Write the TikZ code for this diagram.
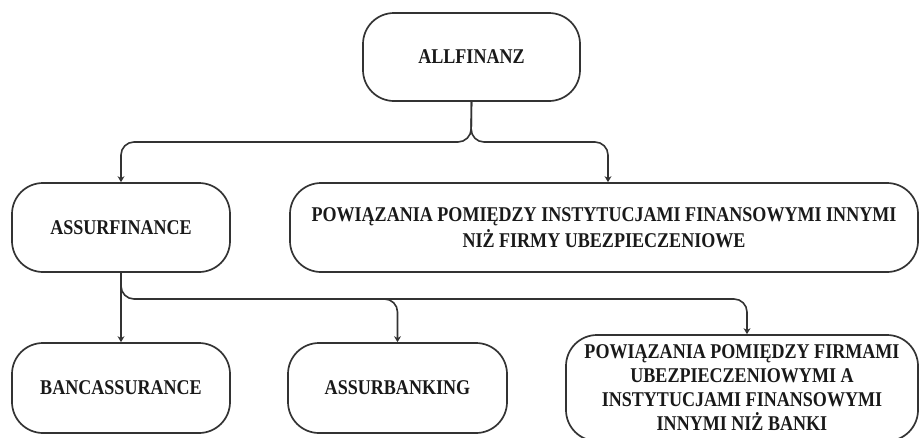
\documentclass[tikz,border=0pt]{standalone}
\usepackage{fontspec}
\setmainfont{Liberation Serif}[FakeStretch=0.86]
\usetikzlibrary{arrows.meta}
\begin{document}
\begin{tikzpicture}[x=1pt,y=-1pt,
  box/.style={draw=black!80, line width=1.7pt, rounded corners=31pt, align=center,
    inner sep=0pt, text=black!90, font=\fontsize{21}{26}\selectfont\bfseries},
  conn/.style={draw=black!80, line width=1.6pt, rounded corners=13pt},
  arr/.style={conn, -{Stealth[length=6pt,width=7pt]}}]
\useasboundingbox (0,0) rectangle (920,437);
\node[box, minimum width=217pt, minimum height=88pt] (all) at (471.5,57) {ALLFINANZ};
\node[box, minimum width=218pt, minimum height=89pt] (asf) at (121,227.5) {ASSURFINANCE};
\node[box, minimum width=628pt, minimum height=89pt] (pow1) at (604,227.5)
  {POWIĄZANIA POMIĘDZY INSTYTUCJAMI FINANSOWYMI INNYMI\\NIŻ FIRMY UBEZPIECZENIOWE};
\node[box, minimum width=218pt, minimum height=90pt] (banc) at (121,388) {BANCASSURANCE};
\node[box, minimum width=219pt, minimum height=90pt] (assb) at (397.5,388) {ASSURBANKING};
\node[box, minimum width=352pt, minimum height=106pt,
  font=\fontsize{21}{24}\selectfont\bfseries] (pow2) at (742,388)
  {POWIĄZANIA POMIĘDZY FIRMAMI\\UBEZPIECZENIOWYMI A\\INSTYTUCJAMI FINANSOWYMI\\INNYMI NIŻ BANKI};
\coordinate (j1) at (471,142);
\coordinate (j2) at (121,299);
% top branches
\draw[arr] (all.south) -- (j1) -- (j1 -| asf.north) -- (asf.north);
\draw[arr] (all.south) -- (j1) -- (j1 -| 608,0) -- ([xshift=4pt]pow1.north);
% lower branches
\draw[arr] (asf.south) -- (banc.north);
\draw[arr] (asf.south) -- (j2) -- (j2 -| 747,0) -- ([xshift=5pt]pow2.north);
\draw[arr] (j2 -| 370,0) -- (j2 -| assb.north) -- (assb.north);
\end{tikzpicture}
\end{document}
